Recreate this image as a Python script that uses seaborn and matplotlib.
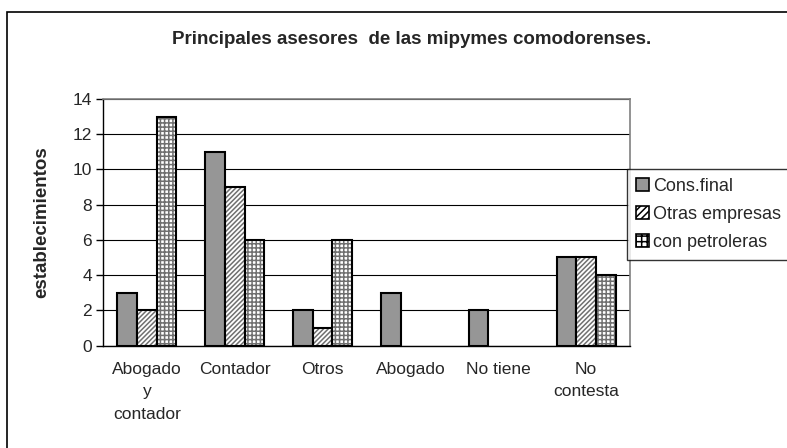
import matplotlib
matplotlib.use("Agg")
import matplotlib.pyplot as plt
from matplotlib.patches import Patch, Rectangle
import pandas as pd
import seaborn as sns

categories = ["Abogado\ny\ncontador", "Contador", "Otros", "Abogado", "No tiene", "No\ncontesta"]
series = ["Cons.final", "Otras empresas", "con petroleras"]
cons_final = [3, 11, 2, 3, 2, 5]
otras_empresas = [2, 9, 1, 0, 0, 5]
con_petroleras = [13, 6, 6, 0, 0, 4]

rows = []
for name, vals in zip(series, [cons_final, otras_empresas, con_petroleras]):
    for cat, v in zip(categories, vals):
        rows.append({"categoria": cat, "serie": name, "valor": v})
df = pd.DataFrame(rows)

sns.set_style("white")
plt.rcParams["font.family"] = ["Liberation Sans", "DejaVu Sans"]
plt.rcParams["hatch.linewidth"] = 1.1

fig = plt.figure(figsize=(7.87, 4.48), dpi=100)
ax = fig.add_axes([103 / 787, 1 - 345.5 / 448, (630 - 103) / 787, (345.5 - 99) / 448])

fills = {"Cons.final": "#969696", "Otras empresas": "white", "con petroleras": "white"}
hatches = ["", "///////", "++++"]

sns.barplot(data=df, x="categoria", y="valor", hue="serie", hue_order=series,
            palette=fills, width=0.67, saturation=1, ax=ax, legend=False,
            edgecolor="black", linewidth=1.5)

for cont, h in zip(ax.containers, hatches):
    for p in cont:
        if not h:
            continue
        p.set_hatch(h)
        p.set_edgecolor("#707070")
        p.set_linewidth(0)
        if p.get_height() > 0:
            ax.add_patch(Rectangle(p.get_xy(), p.get_width(), p.get_height(),
                                   fill=False, edgecolor="black", linewidth=1.5, zorder=3))

ax.set_ylim(0, 14)
ax.set_yticks(range(0, 15, 2))
ax.set_xlim(-0.5, len(categories) - 0.5)
ax.yaxis.grid(True, color="black", linewidth=0.8)
ax.set_axisbelow(True)
for s in ["top", "right"]:
    ax.spines[s].set_color("#808080")
    ax.spines[s].set_linewidth(1.2)
for s in ["left", "bottom"]:
    ax.spines[s].set_color("black")
    ax.spines[s].set_linewidth(1)

ax.set_xticks(range(len(categories)))
ax.set_xticklabels(categories, fontsize=12.5, linespacing=1.6, va="top")
ax.set_xticks([i + 0.5 for i in range(-1, len(categories))], minor=True)
ax.tick_params(axis="x", which="major", length=0, pad=12)
ax.tick_params(axis="x", which="minor", length=5, width=1, color="black", direction="out")
ax.tick_params(axis="y", labelsize=12.5, length=5, width=1, color="black", direction="out", left=True, pad=3)

ax.set_xlabel("")
ax.set_ylabel("establecimientos", fontsize=13.5, fontweight="bold", labelpad=16)

fig.text(412 / 787, 1 - 40 / 448, "Principales asesores  de las mipymes comodorenses.",
         ha="center", va="center", fontsize=13.5, fontweight="bold")

handles = [Patch(facecolor=fills[s], edgecolor="black", hatch=h, linewidth=1.2)
           for s, h in zip(series, ["", "/////", "+++"])]
leg = fig.legend(handles, series, loc="upper left", bbox_to_anchor=(627 / 787, 1 - 169 / 448),
                 frameon=True, fancybox=False, fontsize=13, handlelength=0.7, handleheight=0.7,
                 handletextpad=0.25, labelspacing=0.6, borderpad=0.5, borderaxespad=0)
leg.get_frame().set_edgecolor("black")
leg.get_frame().set_linewidth(1)

fig.add_artist(Rectangle((7 / 787, -0.1), 1.1, 1 - 12 / 448 + 0.1, transform=fig.transFigure,
                         fill=False, edgecolor="black", linewidth=1.2))

fig.savefig("out.png", dpi=100)
